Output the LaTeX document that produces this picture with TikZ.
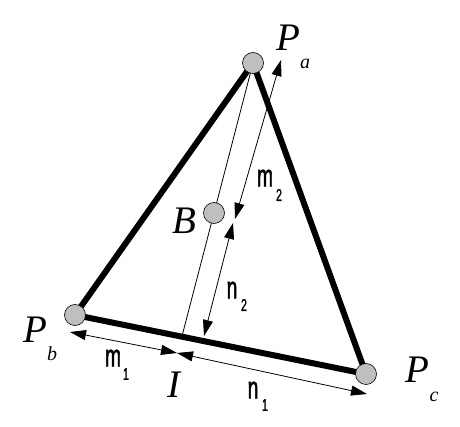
\documentclass[tikz,border=0pt]{standalone}
\usepackage{fontspec}
\setmainfont{Liberation Serif}
\newfontfamily\lenfont[FakeStretch=0.62,FakeBold=1.5]{Liberation Sans}
\usetikzlibrary{arrows.meta}

\begin{document}
\begin{tikzpicture}[x=1pt,y=-1pt,
  side/.style={line width=6pt},
  guide/.style={line width=0.8pt},
  dim/.style={line width=0.8pt,{Triangle[length=16pt,width=10pt]}-{Triangle[length=16pt,width=10pt]}},
  vertex/.style={circle,draw,fill=black!25,line width=0.6pt,minimum size=21pt,inner sep=0pt},
  pname/.style={font=\fontsize{39}{39}\selectfont\itshape,inner sep=0pt},
  psub/.style={font=\fontsize{20}{20}\selectfont\itshape,inner sep=0pt},
  lname/.style={font=\lenfont\fontsize{31}{31}\selectfont,inner sep=0pt},
  lsub/.style={font=\lenfont\fontsize{17}{17}\selectfont,inner sep=0pt}]
\useasboundingbox (0,0) rectangle (460,427);

\coordinate (Pa) at (253,63);
\coordinate (Pb) at (75,315);
\coordinate (Pc) at (366,374);
\coordinate (B) at (214,213);
\coordinate (I) at (intersection of Pa--B and Pb--Pc);

\draw[side] (Pa) -- (Pb) -- (Pc) -- cycle;
\draw[guide] (Pa) -- (I);

% length arrows
\coordinate (m2top) at (281,60);
\coordinate (m2bot) at (235,219);
\coordinate (n2top) at (233,223);
\coordinate (n2bot) at (204,336);
\coordinate (m1left) at (70,332);
\coordinate (mid) at (177,353);
\coordinate (n1right) at (367,394);
\draw[dim] (m2top) -- (m2bot);
\draw[dim] (n2top) -- (n2bot);
\draw[dim] (m1left) -- (mid);
\draw[dim] (mid) -- (n1right);

\node[vertex] (Va) at (Pa) {};
\node[vertex] (Vb) at (Pb) {};
\node[vertex] (Vc) at (Pc) {};
\node[vertex] (VB) at (B) {};

\foreach \name/\pos/\txt/\subpos/\sub in {a/{(288,38)}/P/{(305,64)}/a,b/{(35,330)}/P/{(52,354)}/b,c/{(417,370)}/P/{(434,397)}/c}
  {\node[pname] (P\name) at \pos {\txt};
   \node[psub] (s\name) at \subpos {\sub};}
\node[pname] (lB) at (184,221) {B};
\node[pname] (lI) at (174,385) {I};

\foreach \name/\pos/\txt/\subpos/\sub in {m2/{(265,178)}/m/{(279,195)}/2,n2/{(232,290)}/n/{(244,305)}/2,m1/{(113,358)}/m/{(126,374)}/1,n1/{(253,390)}/n/{(265,405)}/1}
  {\node[lname] (l\name) at \pos {\txt};
   \node[lsub] (s\name) at \subpos {\sub};}
\end{tikzpicture}
\end{document}
